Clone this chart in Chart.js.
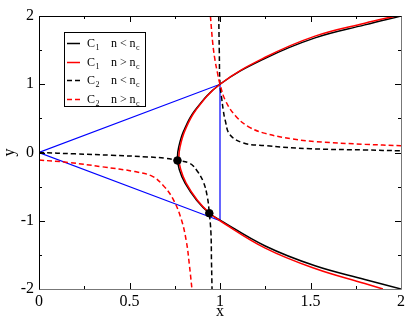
<!DOCTYPE html>
<html>
<head>
<meta charset="utf-8">
<script src="https://cdn.jsdelivr.net/npm/chart.js"></script>
<style>
  html, body { margin: 0; padding: 0; background: #fff; }
  #wrap { width: 415px; height: 321px; }
</style>
</head>
<body>
<div id="wrap"><canvas id="myChart"></canvas></div>
<script>
const xTickValues = [0, 0.5, 1, 1.5, 2];
const xTickLabels = ['0', '0.5', '1', '1.5', '2'];
const yTickValues = [-2, -1, 0, 1, 2];
const yTickLabels = ['-2', '-1', '0', '1', '2'];

// C1, n < nc (black solid), traced from top right round the vertex to bottom right
const c1BelowX = [2.0, 1.8, 1.525, 1.25, 1.0, 0.862, 0.80, 0.772, 0.765, 0.775, 0.807, 0.871, 0.941, 1.0, 1.25, 1.525, 1.8, 2.0];
const c1BelowY = [2.0, 1.87, 1.68, 1.38, 1.0, 0.62, 0.32, 0.08, -0.08, -0.25, -0.45, -0.70, -0.89, -0.99, -1.37, -1.66, -1.86, -2.0];

// C1, n > nc (red solid)
const c1AboveX = [1.972, 1.8, 1.525, 1.25, 1.0, 0.866, 0.806, 0.779, 0.773, 0.783, 0.813, 0.875, 0.943, 1.0, 1.25, 1.525, 1.8, 1.90];
const c1AboveY = [2.0, 1.895, 1.705, 1.395, 1.0, 0.62, 0.32, 0.08, -0.08, -0.25, -0.45, -0.70, -0.89, -1.0, -1.40, -1.70, -1.92, -2.0];

// C2, n < nc (black dashed), left branch and upper branch
const c2BelowLeftX = [0, 0.2, 0.4, 0.6, 0.7, 0.765, 0.834, 0.871, 0.908, 0.93, 0.941, 0.950, 0.953, 0.956];
const c2BelowLeftY = [0, -0.02, -0.04, -0.065, -0.085, -0.117, -0.16, -0.26, -0.43, -0.65, -0.89, -1.18, -1.6, -2.0];
const c2BelowRightX = [0.993, 0.996, 1.0, 1.01, 1.018, 1.028, 1.055, 1.13, 1.25, 1.5, 1.8, 2.0];
const c2BelowRightY = [2.0, 1.5, 1.0, 0.78, 0.62, 0.48, 0.26, 0.14, 0.10, 0.055, 0.037, 0.025];

// C2, n > nc (red dashed)
const c2AboveLeftX = [0, 0.16, 0.35, 0.53, 0.627, 0.685, 0.738, 0.785, 0.814, 0.831, 0.845];
const c2AboveLeftY = [-0.11, -0.145, -0.21, -0.28, -0.35, -0.48, -0.67, -0.97, -1.3, -1.65, -2.0];
const c2AboveRightX = [0.947, 0.96, 0.972, 0.985, 1.0, 1.03, 1.085, 1.156, 1.25, 1.4, 1.525, 1.8, 2.0];
const c2AboveRightY = [2.0, 1.6, 1.36, 1.18, 1.0, 0.76, 0.54, 0.38, 0.28, 0.20, 0.16, 0.12, 0.10];

// blue triangle and the two intersection points
const triX = [0, 1, 1, 0];
const triY = [0, 1, -1, 0];
const dotX = [0.765, 0.941];
const dotY = [-0.117, -0.89];

const legendSubs = ['1', '1', '2', '2'];
const legendRels = ['<', '>', '<', '>'];

function pts(xs, ys) {
  return xs.map((x, i) => ({ x: x, y: ys[i] }));
}
function withGap(a, b) {
  return a.concat([{ x: NaN, y: NaN }], b);
}

const serif = '"Liberation Serif", "DejaVu Serif", serif';

const frameTicks = {
  id: 'frameTicks',
  afterDraw(chart) {
    const { ctx, chartArea: a, scales: { x, y } } = chart;
    ctx.save();
    ctx.lineWidth = 1;
    ctx.strokeStyle = '#000';
    ctx.beginPath();
    const xt = x.ticks.map(t => t.value);
    xt.forEach((v, i) => {
      const px = Math.round(x.getPixelForValue(v)) + 0.5;
      ctx.moveTo(px, a.bottom); ctx.lineTo(px, a.bottom - 6);
      ctx.moveTo(px, a.top); ctx.lineTo(px, a.top + 6);
      if (i < xt.length - 1) {
        const pm = Math.round(x.getPixelForValue((v + xt[i + 1]) / 2)) + 0.5;
        ctx.moveTo(pm, a.bottom); ctx.lineTo(pm, a.bottom - 3);
        ctx.moveTo(pm, a.top); ctx.lineTo(pm, a.top + 3);
      }
    });
    const yt = y.ticks.map(t => t.value);
    yt.forEach((v, i) => {
      const py = Math.round(y.getPixelForValue(v)) + 0.5;
      ctx.moveTo(a.left, py); ctx.lineTo(a.left + 6, py);
      ctx.moveTo(a.right, py); ctx.lineTo(a.right - 6, py);
      if (i < yt.length - 1) {
        const pm = Math.round(y.getPixelForValue((v + yt[i + 1]) / 2)) + 0.5;
        ctx.moveTo(a.left, pm); ctx.lineTo(a.left + 3, pm);
        ctx.moveTo(a.right, pm); ctx.lineTo(a.right - 3, pm);
      }
    });
    ctx.stroke();

    // frame: left/top dark, right/bottom grey
    const l = Math.round(a.left) + 0.5, r = Math.round(a.right) + 0.5;
    const t = Math.round(a.top) + 0.5, b = Math.round(a.bottom) + 0.5;
    ctx.beginPath();
    ctx.moveTo(l, b); ctx.lineTo(l, t); ctx.lineTo(r, t);
    ctx.stroke();
    ctx.strokeStyle = '#777';
    ctx.beginPath();
    ctx.moveTo(r, t); ctx.lineTo(r, b); ctx.lineTo(l, b);
    ctx.stroke();

    // legend
    const bx = 64.5, by = 32.5, bw = 81, bh = 74;
    ctx.fillStyle = '#fff';
    ctx.fillRect(bx, by, bw, bh);
    ctx.strokeStyle = '#000';
    ctx.strokeRect(bx, by, bw, bh);
    const colors = ['#000', '#f00', '#000', '#f00'];
    const dashed = [false, false, true, true];
    for (let i = 0; i < 4; i++) {
      const base = 47 + i * 18.5;
      const ly = Math.round(base - 4) + 0.5;
      ctx.strokeStyle = colors[i];
      ctx.lineWidth = 1.5;
      ctx.setLineDash(dashed[i] ? [5, 3] : []);
      ctx.beginPath();
      ctx.moveTo(67, ly); ctx.lineTo(80, ly);
      ctx.stroke();
      ctx.setLineDash([]);
      ctx.fillStyle = '#000';
      ctx.textBaseline = 'alphabetic';
      ctx.textAlign = 'left';
      ctx.font = '12px ' + serif;
      ctx.fillText('C', 87, base);
      ctx.fillText('n', 111, base);
      ctx.fillText(legendRels[i], 120, base);
      ctx.fillText('n', 129.5, base);
      ctx.font = '8px ' + serif;
      ctx.fillText(legendSubs[i], 95.5, base + 3);
      ctx.fillText('c', 136, base + 3);
    }
    ctx.restore();
  }
};

const lineBase = { showLine: true, pointRadius: 0, fill: false, tension: 0.4 };

new Chart(document.getElementById('myChart').getContext('2d'), {
  type: 'scatter',
  data: {
    datasets: [
      {
        data: pts(dotX, dotY),
        showLine: false,
        pointRadius: 3.8,
        pointBackgroundColor: '#000',
        pointBorderColor: '#000'
      },
      Object.assign({}, lineBase, {
        data: pts(c1AboveX, c1AboveY),
        borderColor: '#f00',
        borderWidth: 1.5
      }),
      Object.assign({}, lineBase, {
        data: pts(c1BelowX, c1BelowY),
        borderColor: '#000',
        borderWidth: 1.5
      }),
      Object.assign({}, lineBase, {
        data: withGap(pts(c2AboveLeftX, c2AboveLeftY), pts(c2AboveRightX, c2AboveRightY)),
        borderColor: '#f00',
        borderWidth: 1.5,
        borderDash: [5, 3],
        spanGaps: false
      }),
      Object.assign({}, lineBase, {
        data: withGap(pts(c2BelowLeftX, c2BelowLeftY), pts(c2BelowRightX, c2BelowRightY)),
        borderColor: '#000',
        borderWidth: 1.5,
        borderDash: [5, 3],
        spanGaps: false
      }),
      {
        data: pts(triX, triY),
        showLine: true,
        pointRadius: 0,
        tension: 0,
        borderColor: '#00f',
        borderWidth: 1.2
      }
    ]
  },
  options: {
    responsive: true,
    maintainAspectRatio: false,
    animation: false,
    layout: { padding: { left: 0, right: 14, top: 16, bottom: 0 } },
    scales: {
      x: {
        type: 'linear',
        min: 0,
        max: 2,
        afterBuildTicks(s) { s.ticks = xTickValues.map(v => ({ value: v })); },
        afterFit(s) { s.height = 32; },
        ticks: {
          padding: 3,
          color: '#000',
          font: { family: serif, size: 16 },
          maxRotation: 0,
          callback: (v, i) => xTickLabels[i]
        },
        grid: { display: false, drawTicks: false },
        border: { display: false },
        title: { display: true, text: 'x', color: '#000', font: { family: serif, size: 16 }, padding: 0 }
      },
      y: {
        type: 'linear',
        min: -2,
        max: 2,
        afterBuildTicks(s) { s.ticks = yTickValues.map(v => ({ value: v })); },
        afterFit(s) { s.width = 39; },
        ticks: {
          padding: 5,
          color: '#000',
          font: { family: serif, size: 16 },
          callback: (v, i) => yTickLabels[i]
        },
        grid: { display: false, drawTicks: false },
        border: { display: false },
        title: { display: true, text: 'y', color: '#000', font: { family: serif, size: 16 }, padding: 0 }
      }
    },
    plugins: {
      legend: { display: false },
      tooltip: { enabled: false }
    }
  },
  plugins: [frameTicks]
});
</script>
</body>
</html>
